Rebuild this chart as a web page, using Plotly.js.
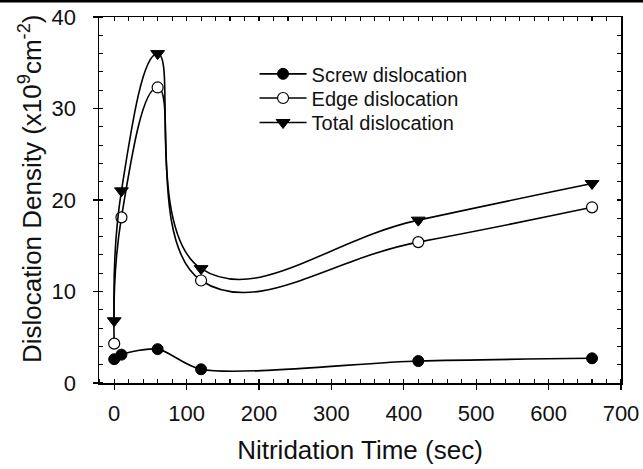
<!DOCTYPE html>
<html>
<head>
<meta charset="utf-8">
<script src="https://cdn.plot.ly/plotly-3.0.1.min.js"></script>
<style>
html,body{margin:0;padding:0;background:#fff;}
#chart{width:643px;height:469px;}
</style>
</head>
<body>
<div id="chart"></div>
<script>
// Data
var time = [0, 10, 60, 120, 420, 660];
var screw = [2.6, 3.1, 3.7, 1.5, 2.4, 2.7];
var edge = [4.3, 18.1, 32.3, 11.2, 15.4, 19.2];
var total = [6.8, 21.0, 36.0, 12.5, 17.8, 21.8];
var seriesNames = ['Screw dislocation', 'Edge dislocation', 'Total dislocation'];
var xTitle = 'Nitridation Time (sec)';
var yTitle = 'Dislocation Density (x10<sup>9</sup>cm<sup>-2</sup>)';

var FONT = 'Liberation Sans, Arial, sans-serif';
function lineStyle(s) { return {color: '#000', width: 1.6, shape: 'spline', smoothing: s}; }

var traces = [
  {x: time, y: screw, name: seriesNames[0], mode: 'lines+markers', line: lineStyle(0.8), legend: 'legend',
   marker: {symbol: 'circle', size: 11, color: '#000', line: {color: '#000', width: 1}}},
  {x: time, y: edge, name: seriesNames[1], mode: 'lines+markers', line: lineStyle(1.3), legend: 'legend2',
   marker: {symbol: 'circle', size: 11, color: '#fff', line: {color: '#000', width: 1.2}}},
  {x: time, y: total, name: seriesNames[2], mode: 'lines+markers', line: lineStyle(1.3), legend: 'legend3',
   marker: {symbol: 'triangle-down', size: 12, color: '#000', line: {color: '#000', width: 1}}},
  {x: [], y: [], xaxis: 'x2', yaxis: 'y2', showlegend: false, hoverinfo: 'skip', mode: 'markers'}
];

function legendAt(yp) {
  return {x: 0.298, y: yp, xanchor: 'left', yanchor: 'top', bgcolor: 'rgba(0,0,0,0)',
          font: {family: FONT, size: 20, color: '#111'}, itemwidth: 47, tracegroupgap: 0};
}

var layout = {
  width: 643, height: 469,
  margin: {l: 99, r: 22, t: 17, b: 86},
  paper_bgcolor: '#fff', plot_bgcolor: '#fff',
  font: {family: FONT, color: '#111', size: 20},
  showlegend: true,
  legend: legendAt(0.898),
  legend2: legendAt(0.832),
  legend3: legendAt(0.765),
  xaxis: {
    range: [-21, 700], dtick: 100, tick0: 0, showgrid: false, zeroline: false,
    showline: true, linecolor: '#000', linewidth: 1.5,
    ticks: 'outside', ticklen: 5, tickwidth: 1.3, tickcolor: '#000',
    minor: {dtick: 20, ticks: 'inside', ticklen: 4, tickwidth: 1.1, tickcolor: '#000', showgrid: false},
    tickfont: {family: FONT, size: 22, color: '#111'}, ticklabelstandoff: 5,
    title: {text: xTitle, font: {family: FONT, size: 26, color: '#111'}, standoff: 16}
  },
  yaxis: {
    range: [0, 40], dtick: 10, tick0: 0, showgrid: false, zeroline: false,
    showline: true, linecolor: '#000', linewidth: 1.5,
    ticks: 'outside', ticklen: 5, tickwidth: 1.3, tickcolor: '#000',
    minor: {dtick: 2, ticks: 'inside', ticklen: 4, tickwidth: 1.1, tickcolor: '#000', showgrid: false},
    tickfont: {family: FONT, size: 22, color: '#111'}, ticklabelstandoff: 12
  },
  xaxis2: {
    overlaying: 'x', side: 'top', anchor: 'y', range: [-21, 700], dtick: 100, tick0: 0,
    showgrid: false, zeroline: false, showline: true, linecolor: '#000', linewidth: 1.5,
    ticks: 'inside', ticklen: 4, tickwidth: 1.1, tickcolor: '#000', showticklabels: false,
    minor: {dtick: 20, ticks: 'inside', ticklen: 4, tickwidth: 1.1, tickcolor: '#000', showgrid: false}
  },
  yaxis2: {
    overlaying: 'y', side: 'right', anchor: 'x', range: [0, 40], dtick: 2, tick0: 0,
    showgrid: false, zeroline: false, showline: true, linecolor: '#000', linewidth: 1.5,
    ticks: 'inside', ticklen: 4, tickwidth: 1.1, tickcolor: '#000', showticklabels: false
  },
  annotations: [
    {text: yTitle, xref: 'paper', yref: 'paper', x: -0.132, y: 0.530, textangle: -90,
     xanchor: 'center', yanchor: 'middle', showarrow: false,
     font: {family: FONT, size: 26, color: '#111'}}
  ],
  shapes: [
    {type: 'line', xref: 'paper', yref: 'paper', x0: -0.2, x1: 1.05, y0: 1.0437, y1: 1.0437,
     line: {color: '#000', width: 3}}
  ]
};

Plotly.newPlot('chart', traces, layout, {displayModeBar: false, staticPlot: true});
</script>
</body>
</html>
